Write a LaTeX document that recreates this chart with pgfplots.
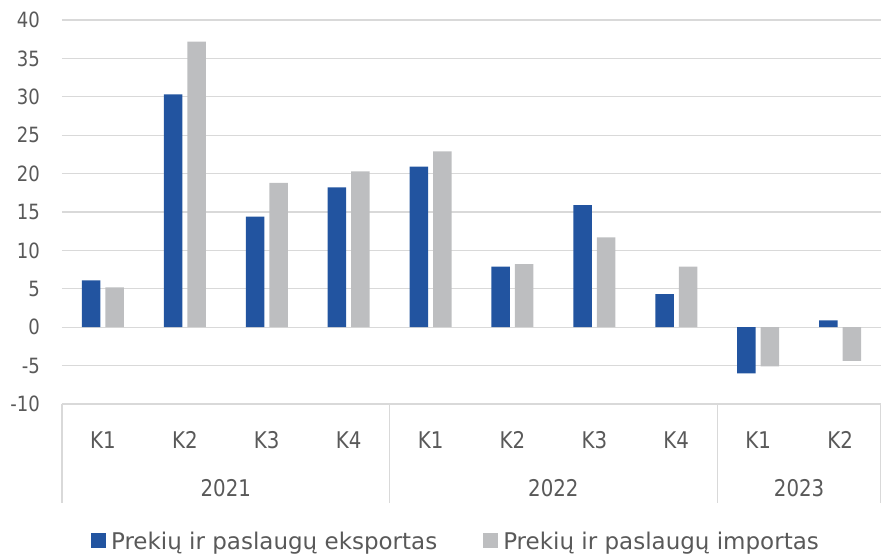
\documentclass[border=0pt]{standalone}
\usepackage{pgfplots}
\pgfplotsset{compat=1.18}
\usepackage{fontspec}
\setmainfont{DejaVu Sans}
\newfontfamily\narrowfont[FakeStretch=0.86]{DejaVu Sans}
\definecolor{expblue}{HTML}{2254A0}
\definecolor{impgray}{HTML}{BDBEC0}
\definecolor{txt}{HTML}{595959}
\definecolor{gridc}{HTML}{D9D9D9}
\begin{document}
\begin{tikzpicture}
\useasboundingbox (0,0) rectangle (881pt,554pt);
\begin{axis}[
  at={(62pt,150pt)}, anchor=south west,
  scale only axis, width=819pt, height=384pt,
  xmin=-0.5, xmax=9.5, ymin=-10, ymax=40,
  ytick={-10,-5,...,40},
  xtick={0,...,9},
  xticklabels={K1,K2,K3,K4,K1,K2,K3,K4,K1,K2},
  axis line style={draw=none},
  major tick length=0pt,
  ymajorgrids, grid style={gridc, line width=1.2pt},
  /pgf/number format/assume math mode=true,
  tick label style={text=txt},
  yticklabel style={font=\narrowfont\fontsize{21}{24}\selectfont, anchor=east, inner sep=0pt, xshift=-22pt},
  xticklabel style={font=\narrowfont\fontsize{23}{26}\selectfont, anchor=center, inner sep=0pt, yshift=-36pt},
  ybar, bar width=18.5pt,
  clip=false,
  legend style={at={(axis description cs:0.481,-0.357)}, anchor=center, draw=none, fill=none,
    font=\fontsize{23}{26}\selectfont, text=txt, legend columns=2,
    /tikz/every odd column/.append style={column sep=3pt},
    /tikz/every even column/.append style={column sep=44pt}},
  legend image code/.code={\fill[#1] (0pt,-6.5pt) rectangle (15pt,8.5pt);},
]
\addplot[fill=expblue, draw=none, bar shift=-11.75pt] coordinates {
(0,6.1) (1,30.3) (2,14.4) (3,18.2) (4,20.9) (5,7.9) (6,15.9) (7,4.3) (8,-6.0) (9,0.9)};
\addplot[fill=impgray, draw=none, bar shift=11.75pt] coordinates {
(0,5.2) (1,37.2) (2,18.8) (3,20.3) (4,22.9) (5,8.2) (6,11.7) (7,7.9) (8,-5.1) (9,-4.4)};
\legend{Prekių ir paslaugų eksportas, Prekių ir paslaugų importas}
\draw[gridc, line width=1.2pt] (axis cs:-0.5,-10) -- ([yshift=-99pt]axis cs:-0.5,-10);
\draw[gridc, line width=1.2pt] (axis cs:3.5,-10) -- ([yshift=-99pt]axis cs:3.5,-10);
\draw[gridc, line width=1.2pt] (axis cs:7.5,-10) -- ([yshift=-99pt]axis cs:7.5,-10);
\draw[gridc, line width=1.2pt] (axis cs:9.5,-10) -- ([yshift=-99pt]axis cs:9.5,-10);
\node[text=txt, font=\narrowfont\fontsize{23}{26}\selectfont] at ([yshift=-84pt]axis cs:1.5,-10) {2021};
\node[text=txt, font=\narrowfont\fontsize{23}{26}\selectfont] at ([yshift=-84pt]axis cs:5.5,-10) {2022};
\node[text=txt, font=\narrowfont\fontsize{23}{26}\selectfont] at ([yshift=-84pt]axis cs:8.5,-10) {2023};
\end{axis}
\end{tikzpicture}
\end{document}
